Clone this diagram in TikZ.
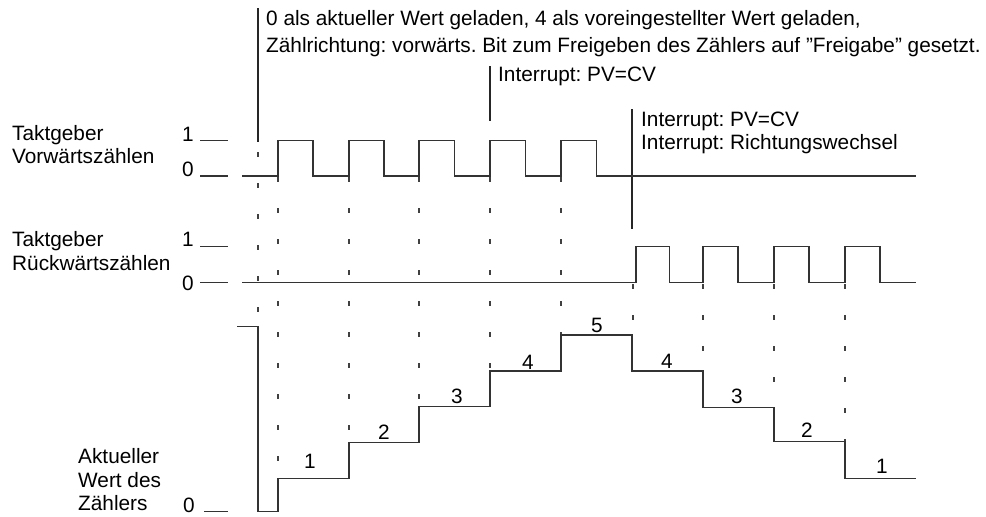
\documentclass[tikz,border=0pt]{standalone}
\usepackage{fontspec}
\setmainfont{Liberation Sans}
\frenchspacing
\begin{document}
\begin{tikzpicture}[x=1pt,y=-1pt,
  wave/.style={line width=1.3pt, draw=black!80, line join=miter},
  marker/.style={line width=1.8pt, draw=black!85},
  guide/.style={line width=1.8pt, draw=black!75, dash pattern=on 5pt off 26pt},
  tickline/.style={line width=1.2pt, draw=black!80},
  lbl/.style={font=\fontsize{20.8}{24}\selectfont, inner sep=0pt, anchor=base west},
  num/.style={font=\fontsize{20.8}{24}\selectfont, inner sep=0pt, anchor=base},
]
\useasboundingbox (0,0) rectangle (986,517);

% annotation texts
\node[lbl] (t1) at (266,25) {0 als aktueller Wert geladen, 4 als voreingestellter Wert geladen,};
\node[lbl] (t2) at (266,52) {Zählrichtung: vorwärts. Bit zum Freigeben des Zählers auf ”Freigabe” gesetzt.};
\node[lbl] (t3) at (498,81) {Interrupt: PV=CV};
\node[lbl] (t4) at (641,126) {Interrupt: PV=CV};
\node[lbl] (t5) at (641,149) {Interrupt: Richtungswechsel};

% annotation markers
\coordinate (m1a) at (258,8);   \coordinate (m1b) at (258,142);
\coordinate (m2a) at (490,66);  \coordinate (m2b) at (490,121);
\coordinate (m3a) at (632,109); \coordinate (m3b) at (632,229);
\draw[marker] (m1a) -- (m1b);
\draw[marker] (m2a) -- (m2b);
\draw[marker] (m3a) -- (m3b);

% left labels
\node[lbl] (u1) at (12,140) {Taktgeber};
\node[lbl] (u2) at (12,163) {Vorwärtszählen};
\node[lbl] (d1) at (12,246.5) {Taktgeber};
\node[lbl] (d2) at (12,270) {Rückwärtszählen};
\node[lbl] (c1) at (78,463) {Aktueller};
\node[lbl] (c2) at (78,487) {Wert des};
\node[lbl] (c3) at (78,510) {Zählers};

% level labels and ticks
\node[num] (uh) at (188,141) {1};
\node[num] (ul) at (188,176) {0};
\node[num] (dh) at (188,246.5) {1};
\node[num] (dl) at (188,290) {0};
\node[num] (cl) at (189,512) {0};
\draw[tickline] (200,140.7) -- (228,140.7);
\draw[tickline] (200,176) -- (228,176);
\draw[tickline] (200,246.5) -- (228,246.5);
\draw[tickline] (200,282.7) -- (228,282.7);
\draw[tickline] (204,511.7) -- (228,511.7);

% guide lines
\draw[guide] (258,152) -- (258,324);
\draw[guide] (278,177) -- (278,478);
\draw[guide] (349,177) -- (349,442);
\draw[guide] (419,177) -- (419,406);
\draw[guide] (490,177) -- (490,370);
\draw[guide] (561,177) -- (561,334);
\draw[guide] (633,284) -- (633,334);
\draw[guide] (703,284) -- (703,370);
\draw[guide] (774,284) -- (774,407);
\draw[guide] (845,284) -- (845,441);

% up clock
\draw[wave] (242,176) -- (278,176) -- (278,140.7) -- (313,140.7) -- (313,176)
  -- (349,176) -- (349,140.7) -- (384,140.7) -- (384,176)
  -- (419,176) -- (419,140.7) -- (454.5,140.7) -- (454.5,176)
  -- (490,176) -- (490,140.7) -- (525.5,140.7) -- (525.5,176)
  -- (561,176) -- (561,140.7) -- (596.5,140.7) -- (596.5,176) -- (916,176);

% down clock
\draw[wave] (242,282.7) -- (636,282.7) -- (636,246.7) -- (669.5,246.7) -- (669.5,282.7)
  -- (703,282.7) -- (703,246.7) -- (738,246.7) -- (738,282.7)
  -- (774,282.7) -- (774,246.7) -- (809,246.7) -- (809,282.7)
  -- (845,282.7) -- (845,246.7) -- (880,246.7) -- (880,282.7) -- (916,282.7);

% counter value
\draw[wave] (237,326.7) -- (258,326.7) -- (258,511.7) -- (278,511.7) -- (278,478.3)
  -- (349,478.3) -- (349,442.7) -- (419,442.7) -- (419,406.7)
  -- (490,406.7) -- (490,371) -- (561,371) -- (561,335)
  -- (632,335) -- (632,371) -- (703,371) -- (703,407.7)
  -- (774,407.7) -- (774,441.7) -- (845,441.7) -- (845,478.3) -- (916,478.3);

% counter numbers
\node[num] (n1) at (310,468) {1};
\node[num] (n2) at (384,439) {2};
\node[num] (n3) at (457,403) {3};
\node[num] (n4) at (528,369) {4};
\node[num] (n5) at (597,332) {5};
\node[num] (n6) at (667,368) {4};
\node[num] (n7) at (737,403) {3};
\node[num] (n8) at (807,437) {2};
\node[num] (n9) at (882,473) {1};
\end{tikzpicture}
\end{document}
